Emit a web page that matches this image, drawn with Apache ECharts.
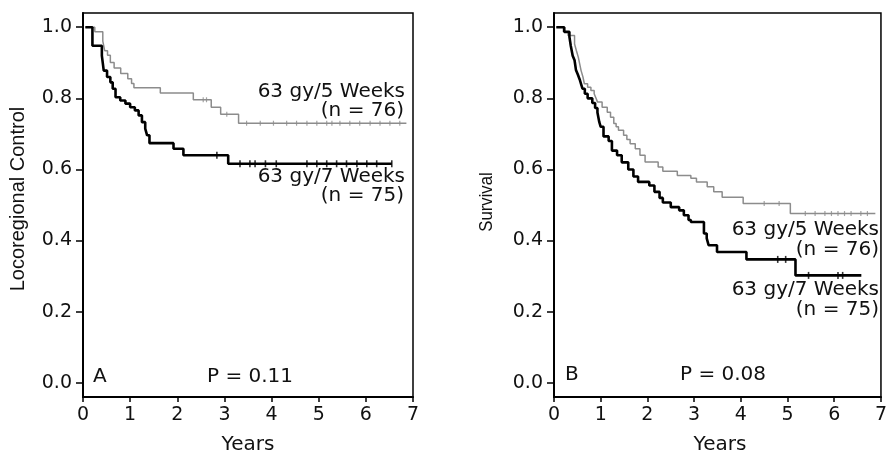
<!DOCTYPE html>
<html>
<head>
<meta charset="utf-8">
<script src="https://cdn.jsdelivr.net/npm/echarts@6/dist/echarts.min.js"></script>
<style>html,body{margin:0;padding:0;background:#fff}#c{width:890px;height:452px}</style>
</head>
<body>
<div id="c"></div>
<script>
// ---- Data ----
const yTicks = [0, 0.2, 0.4, 0.6, 0.8, 1.0];

// Panel A: Locoregional control
const lrc5wT = [0.05, 0.25, 0.42, 0.46, 0.52, 0.58, 0.66, 0.80, 0.95, 1.03, 1.08, 1.64, 2.34, 2.72, 2.92, 3.30, 6.86];
const lrc5wV = [1.0, 0.987, 0.961, 0.934, 0.921, 0.901, 0.885, 0.870, 0.855, 0.842, 0.830, 0.815, 0.796, 0.775, 0.755, 0.730, 0.730];
const lrc5wCens = [2.55, 2.62, 3.05, 3.47, 3.76, 4.04, 4.32, 4.53, 4.75, 4.96, 5.17, 5.28, 5.45, 5.66, 5.87, 6.09, 6.30, 6.51, 6.72];

const lrc7wT = [0.05, 0.20, 0.40, 0.44, 0.51, 0.58, 0.63, 0.69, 0.79, 0.90, 1.00, 1.10, 1.18, 1.25, 1.32, 1.36, 1.41, 1.92, 2.13, 3.08, 6.55];
const lrc7wV = [1.0, 0.948, 0.920, 0.878, 0.860, 0.845, 0.827, 0.803, 0.794, 0.785, 0.775, 0.766, 0.752, 0.733, 0.715, 0.696, 0.674, 0.658, 0.640, 0.616, 0.616];
const lrc7wCens = [2.84, 3.33, 3.54, 3.65, 3.87, 4.10, 4.75, 4.96, 5.17, 5.38, 5.59, 5.81, 6.02, 6.23, 6.55];

// Panel B: Survival
const surv5wT = [0.05, 0.20, 0.30, 0.44, 0.48, 0.52, 0.55, 0.58, 0.62, 0.65, 0.72, 0.79, 0.86, 0.90, 0.93, 1.03, 1.14, 1.21, 1.28, 1.33, 1.38, 1.49, 1.56, 1.63, 1.74, 1.84, 1.95, 2.23, 2.33, 2.64, 2.93, 3.05, 3.28, 3.42, 3.60, 4.05, 5.06, 6.88];
const surv5wV = [1.0, 0.987, 0.977, 0.953, 0.934, 0.916, 0.897, 0.878, 0.860, 0.841, 0.831, 0.822, 0.813, 0.800, 0.790, 0.775, 0.761, 0.747, 0.729, 0.720, 0.710, 0.696, 0.684, 0.672, 0.658, 0.640, 0.621, 0.607, 0.595, 0.583, 0.575, 0.565, 0.551, 0.537, 0.522, 0.504, 0.476, 0.476];
const surv5wCens = [4.50, 4.82, 5.38, 5.59, 5.80, 5.94, 6.08, 6.22, 6.36, 6.57, 6.71];

const surv7wT = [0.05, 0.22, 0.33, 0.36, 0.40, 0.44, 0.47, 0.51, 0.55, 0.58, 0.61, 0.66, 0.72, 0.82, 0.88, 0.93, 0.97, 1.00, 1.06, 1.17, 1.24, 1.35, 1.45, 1.59, 1.70, 1.80, 2.04, 2.15, 2.26, 2.33, 2.50, 2.68, 2.78, 2.88, 2.93, 3.21, 3.27, 3.31, 3.49, 4.12, 5.17, 6.58];
const surv7wV = [1.0, 0.987, 0.973, 0.947, 0.920, 0.907, 0.880, 0.867, 0.853, 0.840, 0.827, 0.813, 0.800, 0.787, 0.773, 0.760, 0.733, 0.720, 0.693, 0.680, 0.653, 0.640, 0.620, 0.600, 0.580, 0.565, 0.555, 0.537, 0.520, 0.507, 0.494, 0.485, 0.471, 0.458, 0.452, 0.420, 0.406, 0.387, 0.368, 0.347, 0.302, 0.302];
const surv7wCens = [4.79, 4.96, 5.45, 6.08, 6.18];

// ---- helpers ----
function pts(ts, vs) { return ts.map((t, i) => [t, vs[i]]); }
function levelAt(ts, vs, t) { let v = vs[0]; for (let i = 0; i < ts.length; i++) { if (ts[i] <= t) v = vs[i]; } return v; }
function cens(ts, vs, cs) { return cs.map(c => [c, levelAt(ts, vs, c)]); }

const FONT = 'DejaVu Sans';
const GRAY = '#8c8c8c';

function xAxisDef(gi) {
  return {
    type: 'value', gridIndex: gi, min: 0, max: 7, interval: 1,
    axisLine: { show: true, onZero: false, lineStyle: { color: '#000', width: 2 } },
    axisTick: { show: true, inside: false, length: 5, lineStyle: { color: '#000', width: 1.5 } },
    axisLabel: { margin: 9, fontFamily: FONT, fontSize: 19, color: '#111' },
    splitLine: { show: false }
  };
}
function yAxisDef(gi) {
  return {
    type: 'value', gridIndex: gi, min: -0.04, max: 1.04,
    axisLine: { show: true, onZero: false, lineStyle: { color: '#000', width: 2 } },
    axisTick: { show: true, inside: false, length: 7, customValues: yTicks, lineStyle: { color: '#000', width: 1.5 } },
    axisLabel: { margin: 11, fontFamily: FONT, fontSize: 19, color: '#111', customValues: yTicks, formatter: v => v.toFixed(1) },
    splitLine: { show: false }
  };
}
function lineSeries(gi, data, color, width) {
  return { type: 'line', xAxisIndex: gi, yAxisIndex: gi, data: data, step: 'end', showSymbol: false, symbol: 'none',
    lineStyle: { color: color, width: width }, silent: true, z: width > 2 ? 4 : 3 };
}
function censSeries(gi, data, color, size) {
  return { type: 'scatter', xAxisIndex: gi, yAxisIndex: gi, data: data, symbol: 'rect', symbolSize: size,
    itemStyle: { color: color }, silent: true, z: 5 };
}
function txt(x, y, s, align, size, extra) {
  return Object.assign({ type: 'text', x: x, y: y, silent: true,
    style: { text: s, fontFamily: FONT, fontSize: size || 20, fill: '#111', align: align || 'left', verticalAlign: 'middle' } }, extra || {});
}

const chart = echarts.init(document.getElementById('c'), null, { renderer: 'canvas' });
chart.setOption({
  animation: false,
  backgroundColor: '#fff',
  grid: [
    { left: 83, top: 13, width: 330, height: 384, show: true, borderColor: '#000', borderWidth: 1.5, backgroundColor: 'transparent' },
    { left: 554, top: 13, width: 333, height: 384, show: true, borderColor: '#000', borderWidth: 1.5, backgroundColor: 'transparent' }
  ],
  xAxis: [xAxisDef(0), xAxisDef(1)],
  yAxis: [yAxisDef(0), yAxisDef(1)],
  series: [
    lineSeries(0, pts(lrc5wT, lrc5wV), GRAY, 1.5),
    lineSeries(0, pts(lrc7wT, lrc7wV), '#000', 2.6),
    censSeries(0, cens(lrc5wT, lrc5wV, lrc5wCens), GRAY, [1.2, 5]),
    censSeries(0, cens(lrc7wT, lrc7wV, lrc7wCens), '#000', [1.6, 7]),
    lineSeries(1, pts(surv5wT, surv5wV), GRAY, 1.5),
    lineSeries(1, pts(surv7wT, surv7wV), '#000', 2.6),
    censSeries(1, cens(surv5wT, surv5wV, surv5wCens), GRAY, [1.2, 5]),
    censSeries(1, cens(surv7wT, surv7wV, surv7wCens), '#000', [1.6, 7])
  ],
  graphic: [
    txt(405, 92, '63 gy/5 Weeks', 'right'),
    txt(404, 111, '(n = 76)', 'right'),
    txt(405, 177, '63 gy/7 Weeks', 'right'),
    txt(404, 196, '(n = 75)', 'right'),
    txt(93, 377, 'A', 'left'),
    txt(207, 377, 'P = 0.11', 'left'),
    txt(248, 445, 'Years', 'center'),
    txt(879, 230, '63 gy/5 Weeks', 'right'),
    txt(879, 250, '(n = 76)', 'right'),
    txt(879, 290, '63 gy/7 Weeks', 'right'),
    txt(879, 310, '(n = 75)', 'right'),
    txt(565, 375, 'B', 'left'),
    txt(680, 375, 'P = 0.08', 'left'),
    txt(720, 445, 'Years', 'center'),
    { type: 'text', x: 18, y: 199, rotation: Math.PI / 2, silent: true,
      style: { text: 'Locoregional Control', fontFamily: 'Liberation Sans', fontSize: 20, fill: '#111', align: 'center', verticalAlign: 'middle' } },
    { type: 'text', x: 487, y: 202, rotation: Math.PI / 2, scaleX: 0.88, silent: true,
      style: { text: 'Survival', fontFamily: 'Liberation Sans', fontSize: 19, fill: '#111', align: 'center', verticalAlign: 'middle' } }
  ]
});
</script>
</body>
</html>
